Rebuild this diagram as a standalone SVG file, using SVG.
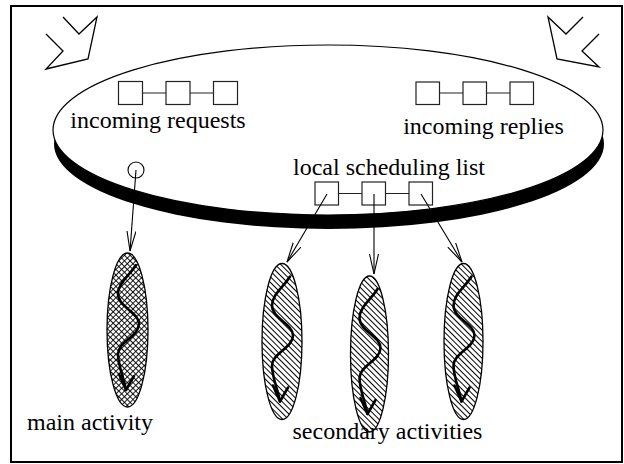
<svg xmlns="http://www.w3.org/2000/svg" width="624" height="464" viewBox="0 0 624 464">
<style>
.t{font-family:"Liberation Serif","Times New Roman",serif;font-size:24px;fill:#000;text-anchor:middle}
.box{fill:#fff;stroke:#222;stroke-width:1.2}
.q{stroke:#222;stroke-width:1.2;fill:none}
.conn{stroke:#000;stroke-width:1.1;fill:none}
.act{stroke:#000;stroke-width:1.3}
.wave{stroke:#000;stroke-width:2.6;fill:none;stroke-linecap:round;stroke-linejoin:round}
.big{fill:none;stroke:#000;stroke-width:1.3;stroke-linejoin:miter}
</style>
<defs>
<pattern id="hatch" width="4" height="4" patternUnits="userSpaceOnUse" patternTransform="rotate(45)">
<rect width="4" height="4" fill="#fff"/>
<line x1="0" y1="0.5" x2="4" y2="0.5" stroke="#000" stroke-width="1"/>
</pattern>
<pattern id="cross" width="4" height="4" patternUnits="userSpaceOnUse" patternTransform="rotate(45)">
<rect width="4" height="4" fill="#fff"/>
<line x1="0" y1="0.5" x2="4" y2="0.5" stroke="#000" stroke-width="0.9"/>
<line x1="0.5" y1="0" x2="0.5" y2="4" stroke="#000" stroke-width="0.9"/>
</pattern>
<marker id="arr" markerWidth="22" markerHeight="12" refX="20" refY="5" orient="auto" markerUnits="userSpaceOnUse">
<path d="M0,0.5 L20,5 L0,9.5" fill="none" stroke="#000" stroke-width="1.1"/>
</marker>
<g id="wv">
<path class="wave" d="M8,-65 C2,-55 -10,-47 -10,-36 C-10,-23 11,-18 11,-6 C11,6 -10,12 -10,24 C-10,36 -4,48 -2,60"/>
<path class="wave" d="M-9,44 L-2,60 L6,46"/>
</g>
</defs>
<rect x="11" y="6" width="611" height="456" fill="#fff" stroke="#000" stroke-width="2"/>
<g id="arrow-left"><polyline class="big" points="63,17 79,34 97,17 88,59 46,69 63,51 46,34"/></g>
<g id="arrow-right"><polyline class="big" points="583,17 566,34 548,17 557,59 599,67 582,51 599,34"/></g>
<g id="node-process">
<ellipse cx="329" cy="144" rx="275" ry="85" fill="#000"/>
<ellipse cx="328" cy="130" rx="275" ry="85" fill="#fff" stroke="#000" stroke-width="1.2"/>
</g>
<g id="node-requests">
<line class="q" x1="142" y1="93" x2="213" y2="93"/>
<rect class="box" x="118.5" y="81.5" width="24" height="23"/>
<rect class="box" x="166" y="81.5" width="24" height="23"/>
<rect class="box" x="213.5" y="81.5" width="24" height="23"/>
<text class="t" x="158" y="128">incoming requests</text>
</g>
<g id="node-replies">
<line class="q" x1="439" y1="93" x2="510" y2="93"/>
<rect class="box" x="416" y="82" width="23.5" height="22.5"/>
<rect class="box" x="463" y="82" width="23.5" height="22.5"/>
<rect class="box" x="510" y="82" width="23.5" height="22.5"/>
<text class="t" x="483.5" y="134">incoming replies</text>
</g>
<g id="node-schedule">
<text class="t" x="389" y="175">local scheduling list</text>
<line class="q" x1="338" y1="193.5" x2="409" y2="193.5"/>
<rect class="box" x="315" y="182" width="23.5" height="23"/>
<rect class="box" x="362" y="182" width="23.5" height="23"/>
<rect class="box" x="409" y="182" width="23.5" height="23"/>
</g>
<g id="node-start">
<circle cx="136" cy="170" r="8" fill="#fff" stroke="#000" stroke-width="1.1"/>
</g>
<g id="node-main">
<ellipse class="act" cx="127.5" cy="330" rx="20.5" ry="77" fill="url(#cross)"/>
<use href="#wv" transform="translate(128,330)"/>
<text class="t" x="90" y="430">main activity</text>
</g>
<g id="node-sec1">
<ellipse class="act" cx="282" cy="341.5" rx="20" ry="78" fill="url(#hatch)"/>
<use href="#wv" transform="translate(282,341.5)"/>
</g>
<g id="node-sec2">
<ellipse class="act" cx="369.5" cy="354" rx="19" ry="78" fill="url(#hatch)"/>
<use href="#wv" transform="translate(369.5,354)"/>
</g>
<g id="node-sec3">
<ellipse class="act" cx="463.5" cy="341.5" rx="19.5" ry="78" fill="url(#hatch)"/>
<use href="#wv" transform="translate(463.5,341.5)"/>
</g>
<text class="t" x="387.5" y="439">secondary activities</text>
<g id="connectors">
<line class="conn" x1="136" y1="170" x2="130" y2="251" marker-end="url(#arr)"/>
<line class="conn" x1="327" y1="194" x2="287" y2="262" marker-end="url(#arr)"/>
<line class="conn" x1="374" y1="194" x2="374" y2="274" marker-end="url(#arr)"/>
<line class="conn" x1="421" y1="194" x2="462" y2="262" marker-end="url(#arr)"/>
</g>
</svg>
